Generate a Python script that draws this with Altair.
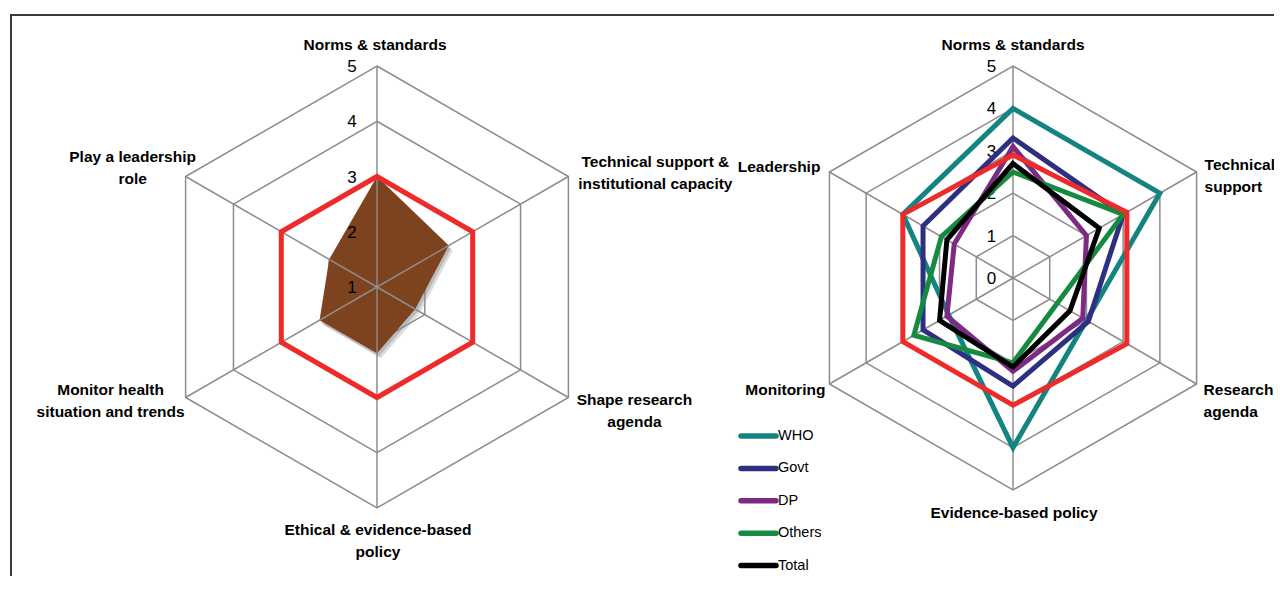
import altair as alt
import pandas as pd

# ---------------- data ----------------
left_categories = ["Norms & standards", "Technical support &\ninstitutional capacity",
                   "Shape research\nagenda", "Ethical & evidence-based\npolicy",
                   "Monitor health\nsituation and trends", "Play a leadership\nrole"]
left_overall = [3.0, 2.5, 1.8, 2.2, 2.2, 2.0]
left_red = [3.0, 3.0, 3.0, 3.0, 3.0, 3.0]
left_ticks = [1, 2, 3, 4, 5]

right_categories = ["Norms & standards", "Technical\nsupport", "Research\nagenda",
                    "Evidence-based policy", "Monitoring", "Leadership"]
series_names = ["WHO", "Govt", "DP", "Others", "Total"]
who = [4.0, 4.0, 2.0, 4.0, 1.75, 3.0]
govt = [3.3, 3.0, 2.05, 2.55, 2.45, 2.45]
dp = [3.1, 2.0, 1.9, 2.2, 1.8, 1.6]
others = [2.5, 3.0, 1.2, 2.0, 2.7, 1.95]
total = [2.7, 2.35, 1.55, 2.1, 2.0, 1.8]
right_red = [2.9, 3.1, 3.1, 3.0, 3.0, 3.0]
right_ticks = [0, 1, 2, 3, 4, 5]

# ---------------- layout / style ----------------
W, H = 1266, 568
XS = alt.Scale(domain=[8, 8 + W], nice=False, zero=False)
YS = alt.Scale(domain=[8, 8 + H], nice=False, zero=False, reverse=True)

LEFT = (377, 287, 221, 1, 5)     # cx, cy, R, vmin, vmax
RIGHT = (1013, 278, 212, 0, 5)

series_colors = ["#138482", "#2D2F80", "#7E2A85", "#178A42", "#000000"]
RED = "#EE2A2A"
BROWN = "#7D421E"
GRID = "#8C8C8C"
CAT_FONT = "Liberation Sans"
LH = 22

left_label_align = ["center"] * 6
left_label_dx = [-2, 87, 66, 1, -75, -53]
left_label_dy = [-21, -3.5, 13.5, 33, 3.5, -8.5]
right_label_align = ["center", "left", "left", "center", "right", "right"]
right_label_dx = [0, 8, 7, 1, -4, -9]
right_label_dy = [-21, 4, 17, 23, 6, -5]


def polar(ch, cfg, value="datum.value", dx="0", dy="0", out=("px", "py")):
    cx, cy, R, vmin, vmax = cfg
    return ch.transform_calculate(
        **{
            "ang_": "datum.idx * PI / 3",
            "rad_": f"({value} - {vmin}) / {vmax - vmin} * {R}",
            out[0]: f"{cx} + datum.rad_ * sin(datum.ang_) + ({dx})",
            out[1]: f"{cy} - datum.rad_ * cos(datum.ang_) + ({dy})",
        }
    )


def XY():
    return dict(x=alt.X("px:Q", scale=XS, axis=None), y=alt.Y("py:Q", scale=YS, axis=None))


def poly_df(values):
    return pd.DataFrame({"idx": list(range(len(values))), "value": values})


def rings(cfg, levels):
    rows = [{"idx": i, "value": lv, "level": lv} for lv in levels for i in range(6)]
    ch = alt.Chart(pd.DataFrame(rows)).mark_line(
        interpolate="linear-closed", color=GRID, strokeWidth=1.5)
    return polar(ch, cfg).encode(**XY(), order=alt.Order("idx:Q"), detail="level:N")


def spokes(cfg):
    df = pd.DataFrame({"idx": list(range(6))})
    ch = alt.Chart(df).mark_rule(color=GRID, strokeWidth=1.5)
    ch = polar(ch, cfg, value=str(cfg[3]))
    ch = polar(ch, cfg, value=str(cfg[4]), out=("px2", "py2"))
    return ch.encode(**XY(), x2="px2:Q", y2="py2:Q")


def ticks(cfg, vals, dx):
    df = pd.DataFrame({"idx": [0] * len(vals), "value": vals, "lab": [str(v) for v in vals]})
    ch = alt.Chart(df).mark_text(font=CAT_FONT, fontSize=17, color="#000",
                                 align="center", baseline="middle")
    return polar(ch, cfg, dx=str(dx), dy="1").encode(**XY(), text="lab:N")


def poly_line(cfg, values, color, width, fill=None, dx=0, dy=0, opacity=1):
    kw = dict(interpolate="linear-closed", strokeJoin="miter")
    if fill is not None:
        kw.update(fill=fill, fillOpacity=opacity, strokeWidth=0, stroke=fill)
    else:
        kw.update(stroke=color, strokeWidth=width)
    ch = alt.Chart(poly_df(values)).mark_line(**kw)
    return polar(ch, cfg, dx=str(dx), dy=str(dy)).encode(**XY(), order=alt.Order("idx:Q"))


def cat_labels(cfg, cats, aligns, dxs, dys):
    rows = []
    for i, c in enumerate(cats):
        lines = c.split("\n")
        for j, t in enumerate(lines):
            rows.append({"idx": i, "t": t, "ln": j, "n": len(lines), "al": aligns[i],
                         "ldx": dxs[i], "ldy": dys[i]})
    df = pd.DataFrame(rows)
    layers = []
    for al in ["left", "center", "right"]:
        ch = alt.Chart(df).transform_filter(f"datum.al == '{al}'").mark_text(
            font=CAT_FONT, fontSize=15.5, fontWeight="bold", color="#000",
            align=al, baseline="middle")
        ch = polar(ch, cfg, value=str(cfg[4]), dx="datum.ldx",
                   dy=f"datum.ldy + (datum.ln - (datum.n - 1) / 2) * {LH}")
        layers.append(ch.encode(**XY(), text="t:N"))
    return layers


layers = []
# frame
layers.append(alt.Chart(pd.DataFrame({"a": [0]})).mark_rule(color="#3a3a3a", strokeWidth=2).encode(
    x=alt.value(3), x2=alt.value(W), y=alt.value(7)))
layers.append(alt.Chart(pd.DataFrame({"a": [0]})).mark_rule(color="#3a3a3a", strokeWidth=2).encode(
    x=alt.value(3), y=alt.value(6), y2=alt.value(H)))

# ---- left radar ----
layers.append(rings(LEFT, [2, 3, 4, 5]))
layers.append(poly_line(LEFT, left_overall, None, 0, fill="#9a9a9a", dx=4, dy=5, opacity=0.35))
layers.append(poly_line(LEFT, left_overall, None, 0, fill="#7a7a7a", dx=2, dy=3, opacity=0.35))
layers.append(poly_line(LEFT, left_overall, None, 0, fill=BROWN))
layers.append(spokes(LEFT))
layers.append(ticks(LEFT, left_ticks, -25))
layers.append(poly_line(LEFT, left_red, RED, 5))
layers += cat_labels(LEFT, left_categories, left_label_align, left_label_dx, left_label_dy)

# ---- right radar ----
layers.append(rings(RIGHT, [1, 2, 3, 4, 5]))
layers.append(spokes(RIGHT))
layers.append(ticks(RIGHT, right_ticks, -21.5))
for vals, col in zip([who, govt, dp, others, total], series_colors):
    layers.append(poly_line(RIGHT, vals, col, 5))
layers.append(poly_line(RIGHT, right_red, RED, 5))
layers += cat_labels(RIGHT, right_categories, right_label_align, right_label_dx, right_label_dy)

# legend
leg = pd.DataFrame({"series": series_names, "i": list(range(len(series_names)))})
cscale = alt.Scale(domain=series_names, range=series_colors)
legy = alt.Y("ly:Q", scale=YS, axis=None)
layers.append(alt.Chart(leg).transform_calculate(ly="436 + datum.i * 32.4").mark_rule(
    strokeWidth=5.5, strokeCap="round").encode(
    x=alt.value(741 - 8), x2=alt.value(776 - 8), y=legy,
    color=alt.Color("series:N", scale=cscale, legend=None)))
layers.append(alt.Chart(leg).transform_calculate(ly="436 + datum.i * 32.4").mark_text(
    align="left", baseline="middle", font=CAT_FONT, fontSize=14.5, color="#000").encode(
    x=alt.value(778 - 8), y=legy, text="series:N"))

chart = alt.layer(*layers).properties(
    width=W, height=H, padding=0, autosize=alt.AutoSizeParams(type="none")
).configure_view(stroke=None)

chart.save("out.html", embed_options={"renderer": "svg", "actions": False})
